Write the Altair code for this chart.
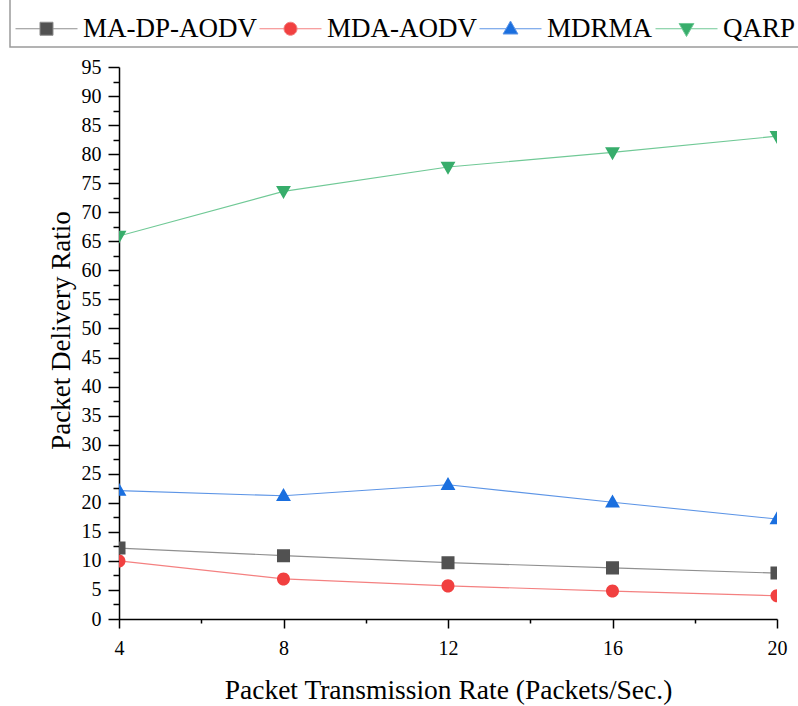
import altair as alt
import pandas as pd

rates = [4, 8, 12, 16, 20]
series_names = ["MA-DP-AODV", "MDA-AODV", "MDRMA", "QARP"]
ma_dp_aodv = [12.2, 10.9, 9.7, 8.8, 7.9]
mda_aodv = [10.0, 6.9, 5.7, 4.8, 4.0]
mdrma = [22.1, 21.2, 23.1, 20.1, 17.2]
qarp = [65.9, 73.6, 77.8, 80.3, 83.1]

x_ticks = [4, 6, 8, 10, 12, 14, 16, 18, 20]
y_ticks = [i * 2.5 for i in range(39)]

marker_colors = ["#515151", "#F14040", "#1A6FDF", "#37AD6B"]
line_colors = ["#8f8f8f", "#f48080", "#5d95e6", "#70c996"]

# legend/marker shapes: short line segments either side of the marker
shape_paths = [
    "M-1,0H-0.21M0.21,0H1M-0.21,-0.21H0.21V0.21H-0.21Z",
    "M-1,0H-0.21M0.21,0H1M-0.21,0A0.21,0.21,0,1,1,0.21,0A0.21,0.21,0,1,1,-0.21,0Z",
    "M-1,0H-0.14M0.14,0H1M0,-0.25L0.24,0.17H-0.24Z",
    "M-1,0H-0.14M0.14,0H1M0,0.25L0.24,-0.17H-0.24Z",
]

rows = []
for name, vals in zip(series_names, [ma_dp_aodv, mda_aodv, mdrma, qarp]):
    for r, v in zip(rates, vals):
        rows.append({"rate": r, "pdr": v, "series": name})
df = pd.DataFrame(rows)

FONT = "Liberation Serif"

x_enc = alt.X(
    "rate:Q",
    scale=alt.Scale(domain=[4, 20], nice=False, zero=False),
    axis=alt.Axis(
        values=x_ticks,
        labelExpr="datum.value % 4 === 0 ? datum.label : ''",
        tickSize={"condition": {"test": "datum.value % 4 === 0", "value": 9}, "value": 4},
        title="Packet Transmission Rate (Packets/Sec.)",
        titleY=79,
        titleBaseline="alphabetic",
        titleFontSize=27.5,
        labelPadding=10,
        labelFont=FONT,
        labelFontSize=20,
        labelFlush=False,
        grid=False,
        labelOverlap=False,
    ),
)
y_enc = alt.Y(
    "pdr:Q",
    scale=alt.Scale(domain=[0, 95], nice=False),
    axis=alt.Axis(
        values=y_ticks,
        labelExpr="datum.value % 5 === 0 ? datum.label : ''",
        tickSize={"condition": {"test": "datum.value % 5 === 0", "value": 11}, "value": 6},
        title="Packet Delivery Ratio",
        titleX=-50,
        titleY=263,
        titleAngle=270,
        titleAlign="center",
        titleBaseline="alphabetic",
        labelPadding=7,
        labelFont=FONT,
        labelFontSize=20,
        labelFlush=False,
        grid=False,
        labelOverlap=False,
    ),
)

legend = alt.Legend(
    title=None,
    orient="none",
    legendX=-109,
    legendY=-75,
    direction="horizontal",
    columns=4,
)

lines = alt.Chart(df).mark_line(strokeWidth=1.1, clip=True).encode(
    x=x_enc,
    y=y_enc,
    stroke=alt.Stroke(
        "series:N",
        scale=alt.Scale(domain=series_names, range=line_colors),
        legend=legend,
    ),
)

points = alt.Chart(df).mark_point(filled=True, size=3844, opacity=1, clip=True).encode(
    x=x_enc,
    y=y_enc,
    fill=alt.Fill(
        "series:N",
        scale=alt.Scale(domain=series_names, range=marker_colors),
        legend=legend,
    ),
    shape=alt.Shape(
        "series:N",
        scale=alt.Scale(domain=series_names, range=shape_paths),
        legend=legend,
    ),
)

chart = (
    alt.layer(lines, points)
    .properties(
        width=658,
        height=552,
        autosize=alt.AutoSizeParams(type="none"),
        padding={"left": 119, "top": 67, "right": 21, "bottom": 87},
        background="white",
    )
    .configure(font=FONT)
    .configure_view(stroke=None)
    .configure_axis(
        domainColor="black",
        domainWidth=1.5,
        tickColor="black",
        tickWidth=1.5,
        labelFont=FONT,
        labelFontSize=20,
        labelColor="black",
        titleFont=FONT,
        titleFontSize=27,
        titleFontWeight="normal",
        titleColor="black",
    )
    .configure_legend(
        labelFont=FONT,
        labelFontSize=27,
        labelColor="black",
        labelLimit=400,
        symbolSize=3844,
        symbolStrokeWidth=1,
        labelOffset=5,
        columnPadding=0,
        padding=5,
        strokeColor="#9a9a9a",
        strokeWidth=1.5,
    )
)

chart.save("out.html", embed_options={"renderer": "svg", "actions": False})
